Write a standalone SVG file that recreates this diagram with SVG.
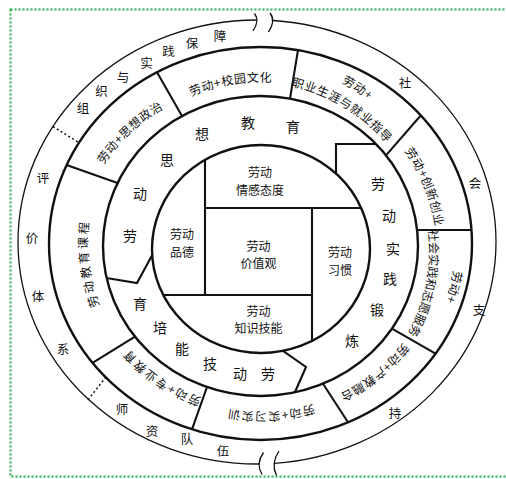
<svg xmlns="http://www.w3.org/2000/svg" width="506" height="479" viewBox="0 0 506 479">
<style>
.thick{fill:none;stroke:#111;stroke-width:2.4}
.div{fill:none;stroke:#111;stroke-width:2.1;stroke-linejoin:miter}
.thin{fill:none;stroke:#111;stroke-width:1.3}
.dot{fill:none;stroke:#111;stroke-width:1.5;stroke-dasharray:2 2.5}
text{font-family:"Noto Sans CJK SC","Noto Sans CJK JP",sans-serif;fill:#111;text-anchor:middle;dominant-baseline:central}
.c{font-size:12px}
.r3{font-size:14px}
.r2{font-size:12px;letter-spacing:1px}
.r1{font-size:12.5px}
</style>
<defs>
<path id="arc" d="M -155.9 -90 A 180 180 0 0 1 155.9 -90"/>
</defs>
<rect x="10.5" y="9.5" width="510" height="467" fill="none" stroke="#22b14c" stroke-width="2" stroke-dasharray="2 2"/>
<g id="rings">
<path class="thin" d="M273 20.5 A239 222 0 0 1 496 242 A239 222 0 0 1 274.5 463.4"/>
<path class="thin" d="M259.5 464 A239 222 0 0 1 18 242 A239 222 0 0 1 256.5 20"/>
<path class="thin" d="M254.5 13.5 Q260 20.5 253 31 M270 13 Q276 20.5 268.5 32 M263.5 452.5 Q255.5 463.5 262 474.5 M279 451 Q270.5 463.5 276.5 475.5"/>
<ellipse class="thick" cx="260.5" cy="243.5" rx="211.5" ry="196.5"/>
<ellipse class="thick" cx="260.5" cy="246" rx="157.5" ry="150"/>
<ellipse class="thick" cx="261" cy="249" rx="109" ry="104"/>
</g>
<g id="connectors">
<path class="dot" d="M53 126.6 L78 142 M88 399.8 L106 377"/>
<path class="div" d="M157 72.2 L182 116 M298 50.1 L290 98.6 M420.5 115.8 L386 155.4 M417 230 L471.5 230 M435.5 353.6 L392 328.6 M192 429.3 L207 387 M92.5 362.8 L135 336.6 M66.5 165 L117.6 183"/>
<path class="div" stroke-width="1.5" d="M348 422.2 L323 383.7"/>
<path class="div" d="M106.6 278 L137 283 L152.2 255 M376 144 L336 144 L336 173.5 M283 350.9 L306 367 L295 392"/>
<path class="div" d="M205 159.8 V295 M205 208 H361.2 M312 208 V340.9 M163.2 295 H312"/>
</g>
<g id="ring1">
<g id="org"><text class="r1" x="83 101.5 123 146.5 168.5 192 220" y="107 90 76 62 50 42 35">组织与实践保障</text></g>
<g id="social"><text class="r1" x="405 475 479 395" y="82 182 309 412">社会支持</text></g>
<g id="eval"><text class="r1" x="43 32 38 63" y="177 237 295 348">评价体系</text></g>
<g id="teachers"><text class="r1" x="122 152 187 223" y="408 430 438 450">师资队伍</text></g>
</g>
<g id="ring2">
<g id="campus" transform="translate(230,78.5) rotate(-10) translate(0,180)"><text class="r2"><textPath href="#arc" startOffset="50%">劳动+校园文化</textPath></text></g>
<g id="politics" transform="translate(126.5,128.5) rotate(-43) translate(0,180)"><text class="r2"><textPath href="#arc" startOffset="50%">劳动+思想政治</textPath></text></g>
<g id="career">
<g transform="translate(359,86) rotate(33) translate(0,180)"><text class="r2"><textPath href="#arc" startOffset="50%">劳动+</textPath></text></g>
<g transform="translate(347,102) rotate(31) translate(0,180)"><text class="r2"><textPath href="#arc" startOffset="50%">职业生涯与就业指导</textPath></text></g>
</g>
<g id="innovation" transform="translate(430,185) rotate(68) translate(0,180)"><text class="r2"><textPath href="#arc" startOffset="50%">劳动+创新创业</textPath></text></g>
<g id="volunteer">
<g transform="translate(456,288) rotate(104) translate(0,180)"><text class="r2"><textPath href="#arc" startOffset="50%">劳动+</textPath></text></g>
<g transform="translate(432,285) rotate(101) translate(0,180)"><text class="r2" style="letter-spacing:0.4px"><textPath href="#arc" startOffset="50%">社会实践和志愿服务</textPath></text></g>
</g>
<g id="industry" transform="translate(378,377) rotate(141) translate(0,180)"><text class="r2"><textPath href="#arc" startOffset="50%">劳动+产教融合</textPath></text></g>
<g id="intern" transform="translate(271,418) rotate(177) translate(0,180)"><text class="r2" style="letter-spacing:1.5px"><textPath href="#arc" startOffset="50%">劳动+实习实训</textPath></text></g>
<g id="major" transform="translate(158,383) rotate(214) translate(0,180)"><text class="r2" style="letter-spacing:2px"><textPath href="#arc" startOffset="50%">劳动+专业教育</textPath></text></g>
<g id="course" transform="translate(83,264) rotate(263) translate(0,180)"><text class="r2" style="letter-spacing:3px"><textPath href="#arc" startOffset="50%">劳动教育课程</textPath></text></g>
</g>
<g id="ring3">
<g id="thought"><text class="r3" x="130 140 167 202 248 293" y="235 193 159 133 122 126">劳动思想教育</text></g>
<g id="practice"><text class="r3" x="378 389 393 390 377 352" y="183 215 248 278 309 340">劳动实践锻炼</text></g>
<g id="skill"><text class="r3" x="268 240 210 182 160 140" y="373 373 363 348 327 303">劳动技能培育</text></g>
</g>
<g id="core">
<g id="emotion"><text class="c"><tspan x="260" y="171">劳动</tspan><tspan x="260" y="188.5">情感态度</tspan></text></g>
<g id="morality"><text class="c"><tspan x="182" y="233">劳动</tspan><tspan x="182" y="250.5">品德</tspan></text></g>
<g id="value"><text class="c"><tspan x="258.5" y="244.5">劳动</tspan><tspan x="258.5" y="262">价值观</tspan></text></g>
<g id="habit"><text class="c"><tspan x="340" y="251">劳动</tspan><tspan x="340" y="268.5">习惯</tspan></text></g>
<g id="knowledge"><text class="c"><tspan x="258.5" y="309.5">劳动</tspan><tspan x="258.5" y="327">知识技能</tspan></text></g>
</g>
</svg>
